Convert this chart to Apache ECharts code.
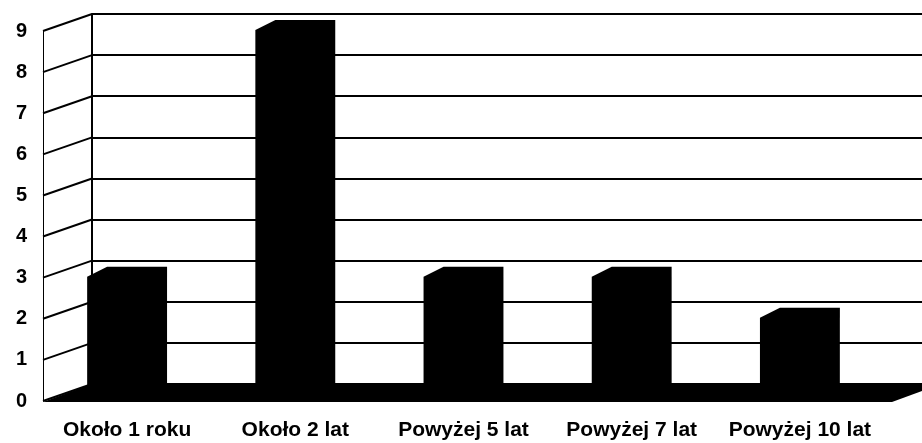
<!DOCTYPE html>
<html>
<head>
<meta charset="utf-8">
<script src="https://cdn.jsdelivr.net/npm/echarts@6/dist/echarts.min.js"></script>
<style>
  html, body { margin: 0; padding: 0; background: #fff; }
  #chart { width: 922px; height: 443px; }
</style>
</head>
<body>
<div id="chart"></div>
<script>
const categories = ['Około 1 roku', 'Około 2 lat', 'Powyżej 5 lat', 'Powyżej 7 lat', 'Powyżej 10 lat']
const values = [3, 9, 3, 3, 2]
const yTicks = [0, 1, 2, 3, 4, 5, 6, 7, 8, 9]

// 3d look: back wall is the front plane shifted right/up
const depthX = 49
const depthY = 17
const front = { left: 43, right: 38, top: 31, bottom: 42 }
const back = { left: front.left + depthX, right: -40, top: front.top - depthY, bottom: front.bottom + depthY }
const font = 'Liberation Sans, Arial, sans-serif'

const chart = echarts.init(document.getElementById('chart'))
chart.setOption({
  backgroundColor: '#fff',
  animation: false,
  grid: [
    { left: front.left, right: front.right, top: front.top, bottom: front.bottom },
    { left: back.left, right: back.right, top: back.top, bottom: back.bottom }
  ],
  xAxis: [
    {
      gridIndex: 0,
      type: 'category',
      data: categories,
      axisLine: { show: false },
      axisTick: { show: false },
      axisLabel: { interval: 0, margin: 19, color: '#000', fontSize: 21, fontWeight: 'bold', fontFamily: font }
    },
    { gridIndex: 1, type: 'value', show: false, min: 0, max: 1 }
  ],
  yAxis: [
    {
      gridIndex: 0,
      type: 'value',
      min: 0,
      max: 9,
      interval: 1,
      axisLine: { show: true, lineStyle: { color: '#000', width: 1 } },
      axisTick: { show: false },
      splitLine: { show: false },
      axisLabel: { margin: 16, padding: [7, 0, 0, 0], color: '#000', fontSize: 20, fontWeight: 'bold', fontFamily: font }
    },
    {
      gridIndex: 1,
      type: 'value',
      min: 0,
      max: 9,
      interval: 1,
      axisLine: { show: true, lineStyle: { color: '#000', width: 2 } },
      axisTick: { show: false },
      axisLabel: { show: false },
      splitLine: { show: true, lineStyle: { color: '#000', width: 2 } }
    }
  ],
  series: [
    {
      // side wall: slanted lines from front axis to back wall
      type: 'custom',
      xAxisIndex: 0,
      yAxisIndex: 0,
      silent: true,
      data: yTicks.map(v => [0, v]),
      renderItem: function(params, api) {
        const p = api.coord([0, api.value(1)])
        const x0 = params.coordSys.x
        return {
          type: 'line',
          shape: { x1: x0, y1: p[1], x2: x0 + depthX, y2: p[1] - depthY },
          style: { stroke: '#000', lineWidth: 2 }
        }
      }
    },
    {
      // black floor
      type: 'custom',
      xAxisIndex: 0,
      yAxisIndex: 0,
      silent: true,
      data: [[0, 0]],
      renderItem: function(params, api) {
        const cs = params.coordSys
        const y0 = api.coord([0, 0])[1]
        const xr = cs.x + cs.width + 8
        return {
          type: 'polygon',
          shape: {
            points: [
              [cs.x, y0 + 1],
              [xr, y0 + 1],
              [xr + depthX, y0 - depthY],
              [cs.x + depthX, y0 - depthY]
            ]
          },
          style: { fill: '#000' }
        }
      }
    },
    {
      // bars, front + top + side all black
      type: 'custom',
      xAxisIndex: 0,
      yAxisIndex: 0,
      silent: true,
      data: values.map((v, i) => [i, v]),
      renderItem: function(params, api) {
        const top = api.coord([api.value(0), api.value(1)])
        const base = api.coord([api.value(0), 0])
        const w = api.size([1, 0])[0] * 0.475
        const left = top[0] - w / 2
        return {
          type: 'polygon',
          shape: {
            points: [
              [left, base[1] - 4],
              [left, top[1] - 1],
              [left + 20, top[1] - 11],
              [left + w, top[1] - 11],
              [left + w, base[1] - 4]
            ]
          },
          style: { fill: '#000' }
        }
      }
    }
  ]
})
</script>
</body>
</html>
